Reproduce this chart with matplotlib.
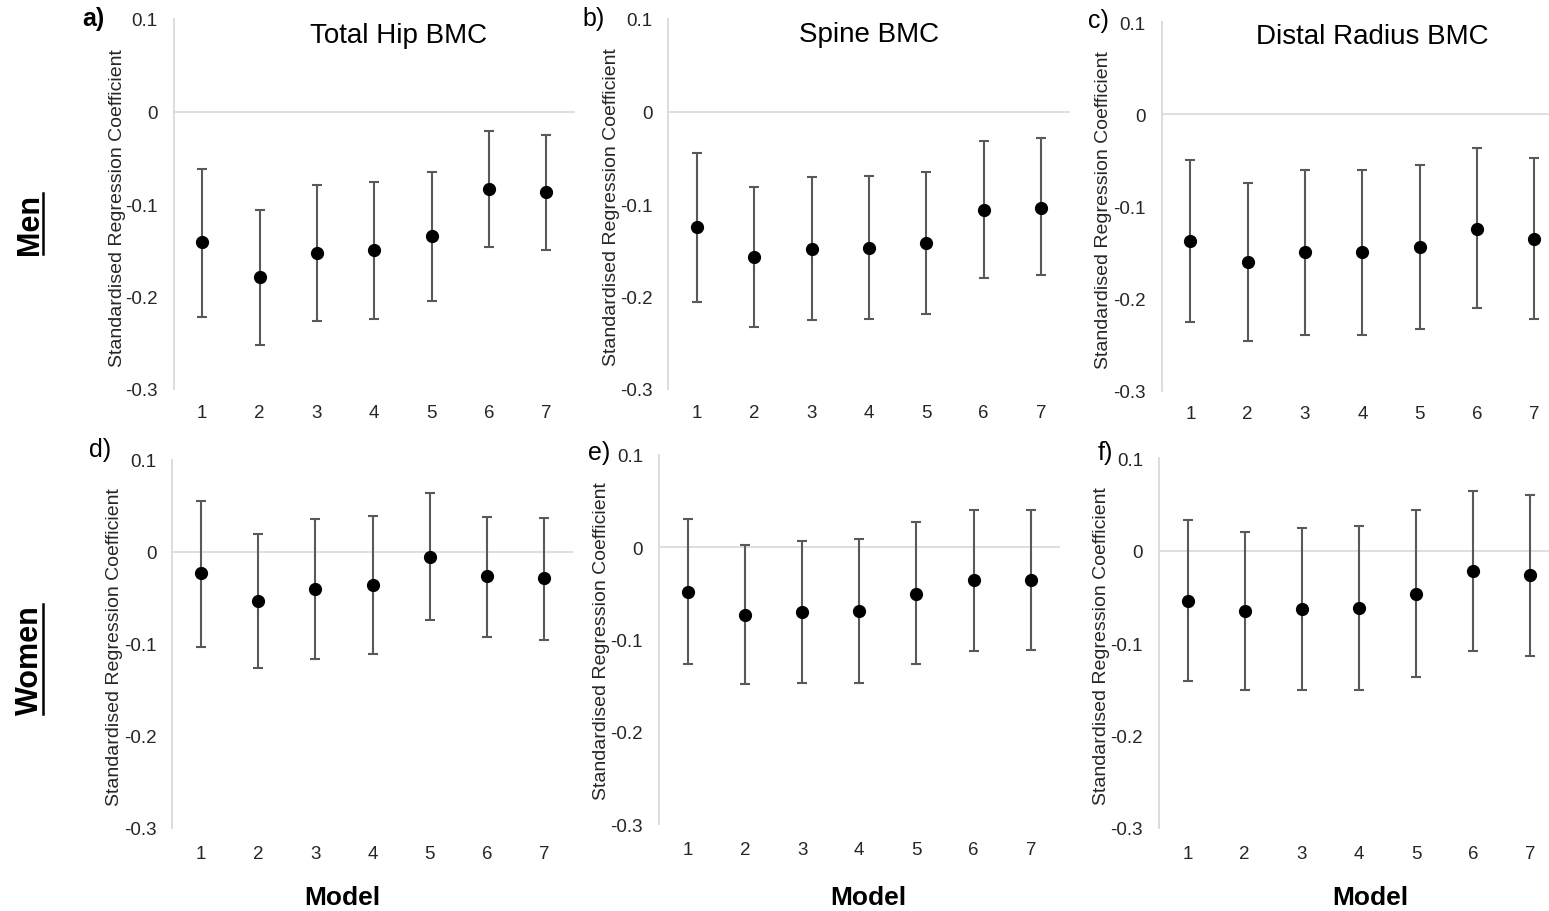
import matplotlib
matplotlib.use("Agg")
import matplotlib.pyplot as plt
from matplotlib.lines import Line2D

plt.rcParams['font.family'] = ['Liberation Sans', 'DejaVu Sans']

W, H = 1549, 912

models = [1, 2, 3, 4, 5, 6, 7]
model_labels = ['1', '2', '3', '4', '5', '6', '7']
yticks = [0.1, 0, -0.1, -0.2, -0.3]
ytick_labels = ['0.1', '0', '-0.1', '-0.2', '-0.3']

titles = ['Total Hip BMC', 'Spine BMC', 'Distal Radius BMC']
panel_tags = ['a)', 'b)', 'c)', 'd)', 'e)', 'f)']

# men
men_hip = [-0.141, -0.179, -0.153, -0.150, -0.135, -0.084, -0.087]
men_hip_hi = [-0.062, -0.107, -0.079, -0.076, -0.065, -0.021, -0.025]
men_hip_lo = [-0.2225, -0.252, -0.2265, -0.224, -0.205, -0.146, -0.150]

men_spine = [-0.125, -0.157, -0.149, -0.148, -0.1425, -0.107, -0.104]
men_spine_hi = [-0.045, -0.082, -0.071, -0.070, -0.065, -0.032, -0.029]
men_spine_lo = [-0.206, -0.233, -0.225, -0.224, -0.219, -0.180, -0.177]

men_radius = [-0.138, -0.160, -0.1495, -0.1495, -0.144, -0.124, -0.135]
men_radius_hi = [-0.050, -0.074, -0.060, -0.060, -0.055, -0.037, -0.047]
men_radius_lo = [-0.2255, -0.246, -0.239, -0.239, -0.233, -0.210, -0.2225]

# women
women_hip = [-0.0235, -0.054, -0.0405, -0.036, -0.0054, -0.0267, -0.0286]
women_hip_hi = [0.0554, 0.0196, 0.0358, 0.039, 0.0635, 0.038, 0.037]
women_hip_lo = [-0.103, -0.126, -0.116, -0.111, -0.0739, -0.0923, -0.0956]

women_spine = [-0.0484, -0.073, -0.0705, -0.069, -0.0505, -0.036, -0.036]
women_spine_hi = [0.031, 0.002, 0.007, 0.009, 0.0275, 0.0405, 0.040]
women_spine_lo = [-0.127, -0.148, -0.1467, -0.1467, -0.127, -0.1127, -0.1116]

women_radius = [-0.054, -0.0657, -0.0635, -0.0624, -0.0469, -0.0224, -0.0263]
women_radius_hi = [0.0335, 0.0206, 0.0249, 0.027, 0.0436, 0.0649, 0.0598]
women_radius_lo = [-0.1407, -0.151, -0.151, -0.151, -0.1367, -0.108, -0.1136]

panels = [
    (men_hip, men_hip_lo, men_hip_hi),
    (men_spine, men_spine_lo, men_spine_hi),
    (men_radius, men_radius_lo, men_radius_hi),
    (women_hip, women_hip_lo, women_hip_hi),
    (women_spine, women_spine_lo, women_spine_hi),
    (women_radius, women_radius_lo, women_radius_hi),
]

# plot areas in pixels: left, right, top, bottom
boxes = [
    (173.5, 575, 20, 390),
    (668.3, 1069.5, 20, 390),
    (1161.7, 1563, 23.3, 391.7),
    (172.3, 573, 460.7, 829),
    (659, 1059.5, 456, 825),
    (1159, 1559, 459.3, 829),
]

ylabel_pos = [(117.5, 208), (611, 207.5), (1103.5, 210),
              (114.5, 647), (601.5, 641.5), (1101.5, 646)]
tag_pos = [(93, 19), (594, 19), (1098, 21), (100, 450), (599, 453), (1105, 453)]
title_pos = [(399, 36), (869, 35), (1372, 37)]
model_pos = [(342, 898), (868, 898), (1370, 898)]


def fx(x):
    return x / W


def fy(y):
    return 1 - y / H


fig = plt.figure(figsize=(W / 100, H / 100), dpi=100)

grey = '#d9d9d9'
txt = '#262626'

for i, (vals, lo, hi) in enumerate(panels):
    l, r, t, b = boxes[i]
    ax = fig.add_axes([fx(l), fy(b), (r - l) / W, (b - t) / H])
    err = [[v - a for v, a in zip(vals, lo)], [h - v for v, h in zip(vals, hi)]]
    ax.errorbar(models, vals, yerr=err, fmt='o', color='black', markersize=8.5,
                ecolor='#595959', elinewidth=1.5, capsize=3.6, capthick=1.5, zorder=3)
    ax.axhline(0, color=grey, lw=1.2, zorder=1)
    ax.set_xlim(0.5, 7.5)
    ax.set_ylim(-0.3, 0.1)
    ax.set_yticks(yticks)
    ax.set_yticklabels(ytick_labels)
    ax.set_xticks(models)
    ax.set_xticklabels(model_labels)
    for s in ['top', 'right', 'bottom']:
        ax.spines[s].set_visible(False)
    ax.spines['left'].set_color(grey)
    ax.spines['left'].set_linewidth(1.3)
    ax.tick_params(axis='both', length=0, labelsize=13.5, labelcolor=txt)
    ax.tick_params(axis='y', pad=11.5)
    ax.tick_params(axis='x', pad=10.5 if i < 3 else 12)
    ax.patch.set_visible(False)

    x, y = ylabel_pos[i]
    fig.text(fx(x), fy(y), 'Standardised Regression Coefficient', rotation=90,
             ha='center', va='center', fontsize=14, color=txt)
    x, y = tag_pos[i]
    fig.text(fx(x), fy(y), panel_tags[i], ha='center', va='center', fontsize=18,
             color='black', fontweight='bold' if i == 0 else 'normal')

for i, t in enumerate(titles):
    x, y = title_pos[i]
    fig.text(fx(x), fy(y), t, ha='center', va='center', fontsize=20, color='black')
    x, y = model_pos[i]
    fig.text(fx(x), fy(y), 'Model', ha='center', va='center', fontsize=19,
             fontweight='bold', color='black')

# row labels, underlined
renderer = fig.canvas.get_renderer()
for label, yc in [('Men', 224.5), ('Women', 660)]:
    tx = fig.text(fx(30), fy(yc), label, rotation=90, ha='center', va='center',
                  fontsize=22, fontweight='bold', color='black')
    bb = tx.get_window_extent(renderer)
    ux = bb.x1 - 2.5
    fig.add_artist(Line2D([ux / W, ux / W], [bb.y0 / H, bb.y1 / H], color='black',
                          lw=1.8, transform=fig.transFigure))

fig.savefig('out.png', dpi=100)
